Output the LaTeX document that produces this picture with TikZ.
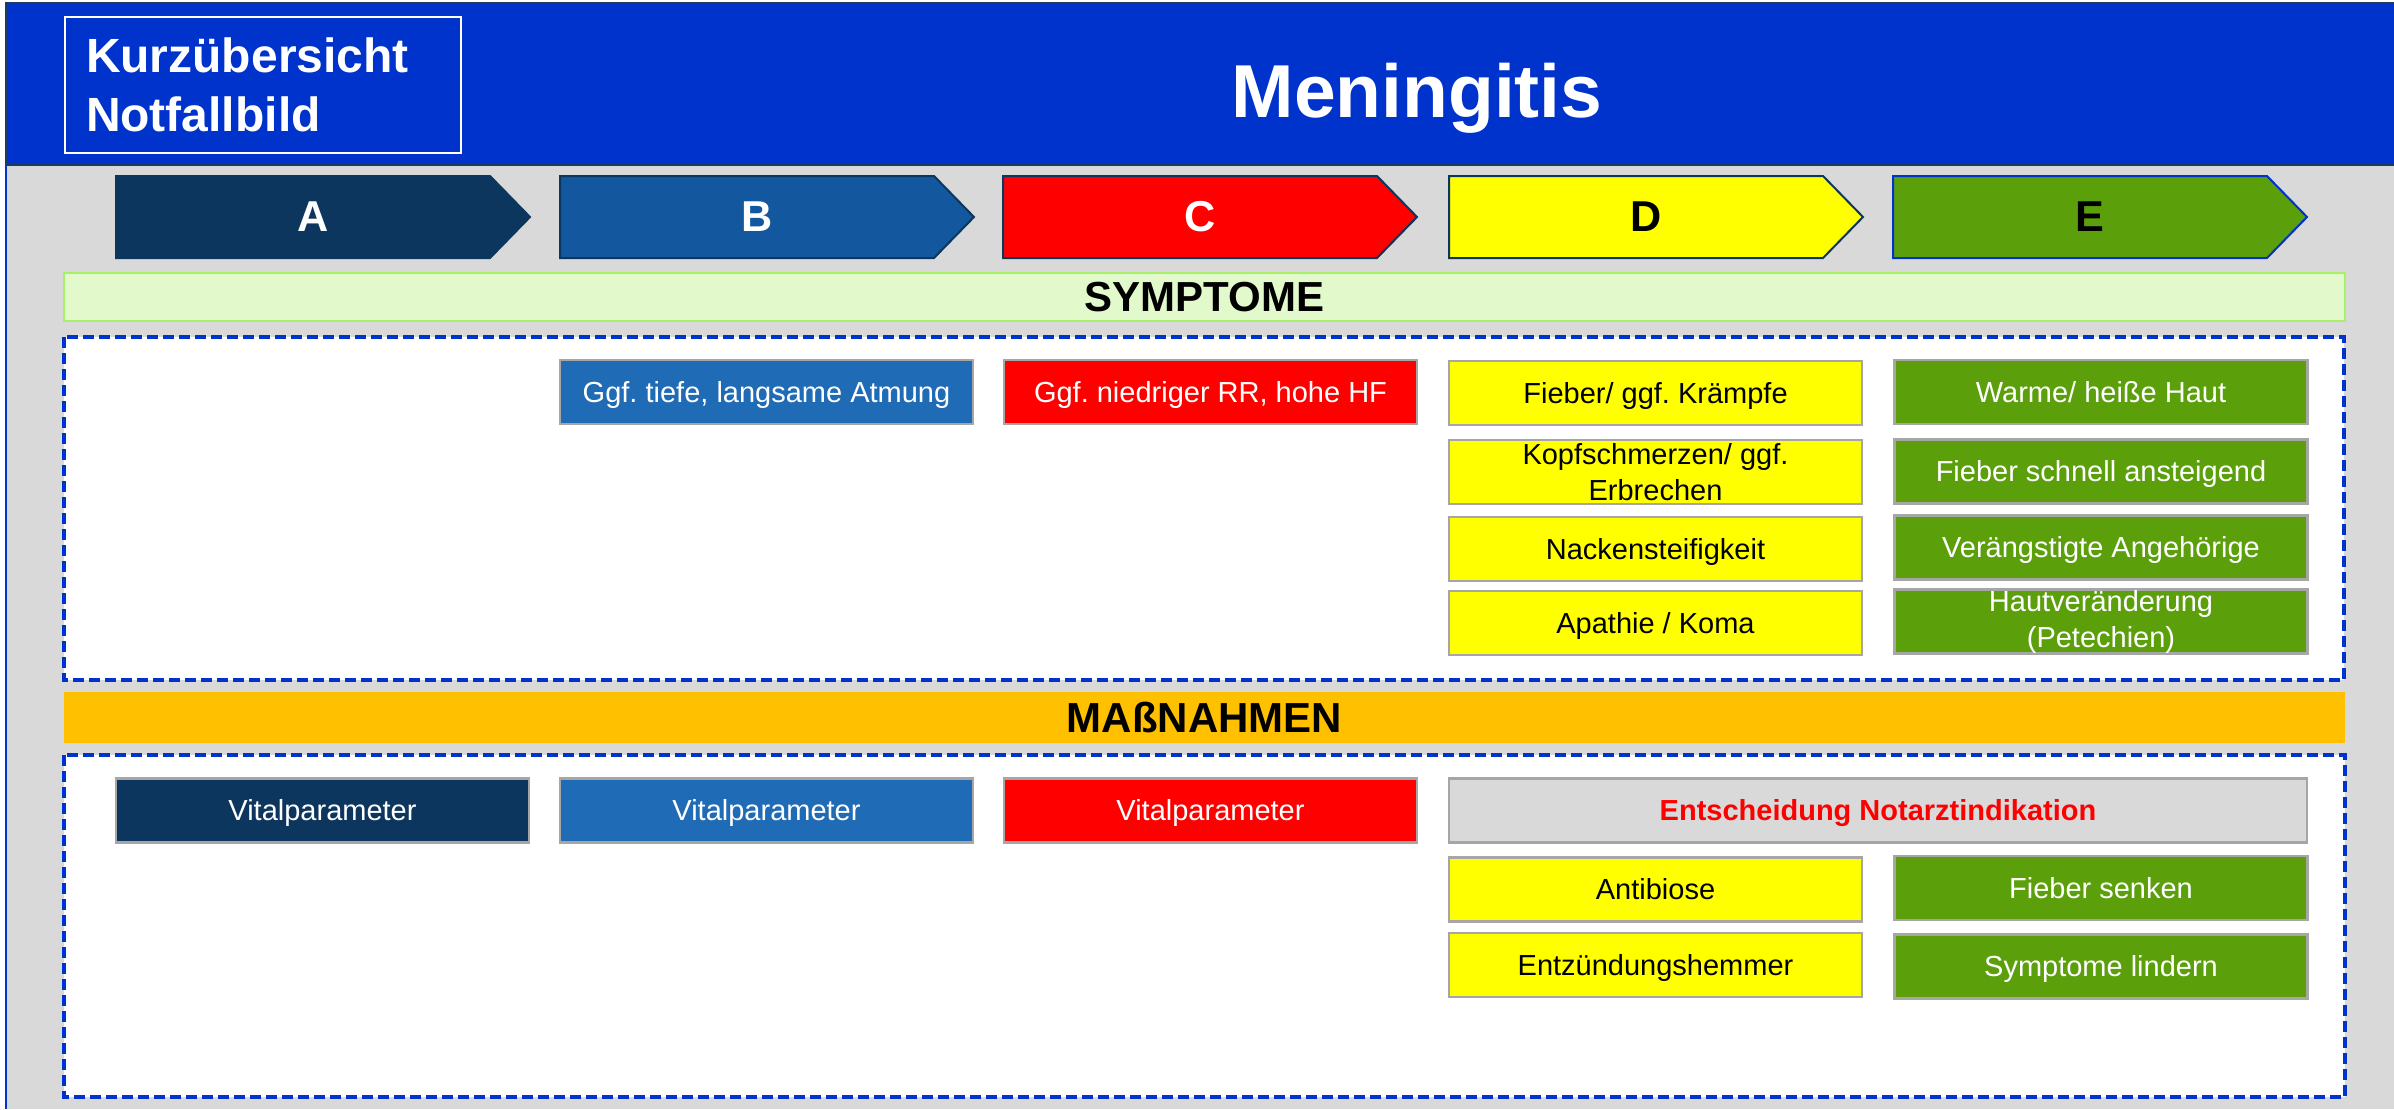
\documentclass[tikz,border=0pt]{standalone}
\usepackage{fontspec}
\setmainfont{Liberation Sans}
\frenchspacing

\definecolor{hdrblue}{HTML}{0033CC}
\definecolor{navy}{HTML}{0D365E}
\definecolor{bArrow}{HTML}{13589E}
\definecolor{bBox}{HTML}{206BB5}
\definecolor{cRed}{HTML}{FF0000}
\definecolor{dYellow}{HTML}{FFFF00}
\definecolor{eGreen}{HTML}{5B9F0B}
\definecolor{panel}{HTML}{D9D9D9}
\definecolor{boxline}{HTML}{A6A6A6}
\definecolor{sympFill}{HTML}{E2FACB}
\definecolor{sympLine}{HTML}{A9F06A}
\definecolor{massFill}{HTML}{FFC000}
\definecolor{frameDark}{HTML}{1F3A60}

\tikzset{
  phase/.style={line width=1pt, line join=miter},
  phaselabel/.style={font=\fontsize{21.6}{26}\selectfont\bfseries, inner sep=0pt},
  sectionbar/.style={minimum width=1140.5pt, inner sep=0pt,
    font=\fontsize{21}{25}\selectfont\bfseries},
  panelbox/.style={draw=hdrblue, fill=white, line width=1.6pt,
    dash pattern=on 5.7pt off 2.3pt},
  itembox/.style={draw=boxline, line width=1.2pt, minimum width=206.5pt,
    minimum height=32pt, inner sep=0pt, align=center,
    font=\fontsize{14.5}{18}\selectfont},
  oneline/.style={text height=13pt, text depth=3pt},
  boxA/.style={itembox, fill=navy, text=white},
  boxB/.style={itembox, fill=bBox, text=white},
  boxC/.style={itembox, fill=cRed, text=white},
  boxD/.style={itembox, fill=dYellow, text=black},
  boxE/.style={itembox, fill=eGreen, text=white},
}

\begin{document}
\begin{tikzpicture}[x=0.5pt, y=-0.5pt]
% page and frame
\fill[white] (0,0) rectangle (2394,1109);
\useasboundingbox (0,0) rectangle (2394,1109);
\fill[panel] (6,165) rectangle (2394,1109);
\draw[hdrblue, line width=1pt] (6,165) -- (6,1109);
\fill[hdrblue] (6,3) rectangle (2394,165);
\draw[frameDark, line width=1pt] (2394,3) -- (6,3) -- (6,165) -- (2394,165);

% header
\node[draw=white, line width=1pt, minimum width=198pt, minimum height=68pt,
      text width=177pt, inner xsep=10.5pt, inner ysep=0pt, align=left, text=white,
      font=\fontsize{24}{29.5}\selectfont\bfseries] (kurz) at (263,85)
      {Kurzübersicht\\Notfallbild};
\node[anchor=base, text=white, font=\fontsize{37.5}{44}\selectfont\bfseries, inner sep=0pt]
      (title) at (1417,117) {Meningitis};

% ABCDE phase arrows
\draw[phase, fill=navy, draw=navy] (116,176) -- ++(374,0) -- ++(40,41) -- ++(-40,41) -- ++(-374,0) -- cycle;
\node[phaselabel, text=white] (lblA) at (313,217) {A};
\draw[phase, fill=bArrow, draw=navy] (560,176) -- ++(374,0) -- ++(40,41) -- ++(-40,41) -- ++(-374,0) -- cycle;
\node[phaselabel, text=white] (lblB) at (757,217) {B};
\draw[phase, fill=cRed, draw=navy] (1003,176) -- ++(374,0) -- ++(40,41) -- ++(-40,41) -- ++(-374,0) -- cycle;
\node[phaselabel, text=white] (lblC) at (1200,217) {C};
\draw[phase, fill=dYellow, draw=navy] (1449,176) -- ++(374,0) -- ++(40,41) -- ++(-40,41) -- ++(-374,0) -- cycle;
\node[phaselabel, text=black] (lblD) at (1646,217) {D};
\draw[phase, fill=eGreen, draw=hdrblue] (1893,176) -- ++(374,0) -- ++(40,41) -- ++(-40,41) -- ++(-374,0) -- cycle;
\node[phaselabel, text=black] (lblE) at (2090,217) {E};

% symptoms
\node[sectionbar, fill=sympFill, draw=sympLine, line width=1.2pt, minimum height=24pt]
      (sympHead) at (1204.5,297) {SYMPTOME};
\draw[panelbox] (64,337) rectangle (2344,680);

\node[boxB, oneline] (sB1) at (766.5,392) {Ggf. tiefe, langsame Atmung};
\node[boxC, oneline] (sC1) at (1210.5,392) {Ggf. niedriger RR, hohe HF};

\node[boxD, oneline] (sD1) at (1655.5,393) {Fieber/ ggf. Krämpfe};
\node[boxD] (sD2) at (1655.5,472) {Kopfschmerzen/ ggf.\\Erbrechen};
\node[boxD, oneline] (sD3) at (1655.5,549) {Nackensteifigkeit};
\node[boxD, oneline] (sD4) at (1655.5,623) {Apathie / Koma};

\node[boxE, oneline] (sE1) at (2101,392) {Warme/ heiße Haut};
\node[boxE, oneline] (sE2) at (2101,471.5) {Fieber schnell ansteigend};
\node[boxE, oneline] (sE3) at (2101,547.5) {Verängstigte Angehörige};
\node[boxE] (sE4) at (2101,621.5) {Hautveränderung\\(Petechien)};

% measures
\node[sectionbar, fill=massFill, minimum height=25.5pt]
      (massHead) at (1204.5,717.5) {MAßNAHMEN};
\draw[panelbox] (64,755) rectangle (2345,1097);

\node[boxA, oneline] (mA1) at (322.5,810.5) {Vitalparameter};
\node[boxB, oneline] (mB1) at (766.5,810.5) {Vitalparameter};
\node[boxC, oneline] (mC1) at (1210.5,810.5) {Vitalparameter};
\node[itembox, oneline, fill=panel, text=cRed, minimum width=429pt,
      font=\fontsize{14.5}{18}\selectfont\bfseries] (mNA) at (1878,810.5)
      {Entscheidung Notarztindikation};

\node[boxD, oneline] (mD1) at (1655.5,889.5) {Antibiose};
\node[boxD, oneline] (mD2) at (1655.5,965) {Entzündungshemmer};
\node[boxE, oneline] (mE1) at (2101,888) {Fieber senken};
\node[boxE, oneline] (mE2) at (2101,966.5) {Symptome lindern};
\end{tikzpicture}
\end{document}
